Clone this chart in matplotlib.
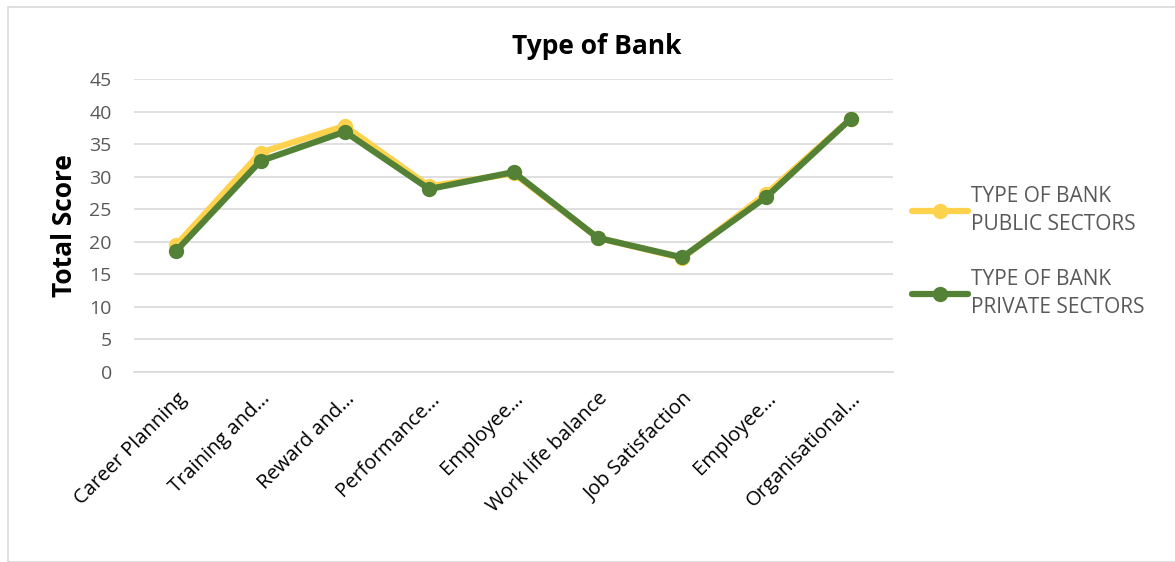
import matplotlib.pyplot as plt
from matplotlib.patches import Rectangle

categories = ['Career Planning', 'Training and…', 'Reward and…', 'Performance…',
              'Employee…', 'Work life balance', 'Job Satisfaction', 'Employee…',
              'Organisational…']
public_sectors = [19.5, 33.7, 37.8, 28.5, 30.5, 20.6, 17.5, 27.4, 38.9]
private_sectors = [18.6, 32.4, 36.9, 28.1, 30.7, 20.6, 17.6, 26.9, 38.9]
y_ticks = [0, 5, 10, 15, 20, 25, 30, 35, 40, 45]

plt.rcParams['font.family'] = ['Open Sans', 'DejaVu Sans']

fig = plt.figure(figsize=(11.75, 5.62), dpi=100)
# chart-area frame
fig.patches.append(Rectangle((8 / 1175, 0.0), 1.2, 1 - 7 / 562, transform=fig.transFigure,
                             fill=False, edgecolor='#d9d9d9', linewidth=1.2))

ax = fig.add_axes([134 / 1175, 1 - 372 / 562, (893 - 134) / 1175, (372 - 79) / 562])
x = range(len(categories))

ax.plot(x, public_sectors, color='#ffd24d', linewidth=4.5, marker='o', markersize=10,
        label='TYPE OF BANK\nPUBLIC SECTORS', solid_capstyle='round')
ax.plot(x, private_sectors, color='#538135', linewidth=4.5, marker='o', markersize=10,
        label='TYPE OF BANK\nPRIVATE SECTORS', solid_capstyle='round')

ax.set_xlim(-0.5, len(categories) - 0.5)
ax.set_ylim(0, 45)
ax.set_yticks(y_ticks)
ax.grid(axis='y', color='#d9d9d9', linewidth=1.2)
ax.set_axisbelow(True)
for side in ['top', 'right', 'left']:
    ax.spines[side].set_visible(False)
ax.spines['bottom'].set_color('#d9d9d9')
ax.spines['bottom'].set_linewidth(1.2)
ax.tick_params(axis='both', length=0)
ax.tick_params(axis='y', labelsize=14, labelcolor='#595959', pad=16)

ax.set_xticks(list(x))
ax.set_xticklabels(categories, rotation=45, ha='right', rotation_mode='anchor',
                   fontsize=14.5, color='black')
ax.tick_params(axis='x', pad=12)

ax.set_ylabel('Total Score', fontsize=19, fontweight='bold', labelpad=8)
fig.text(597 / 1175, 1 - 47 / 562, 'Type of Bank', fontsize=19, fontweight='bold',
         ha='center', va='center')

leg = fig.legend(loc='center left', bbox_to_anchor=(893 / 1175, 1 - 252 / 562),
                 frameon=False, fontsize=15, labelspacing=1.6, handlelength=2.7,
                 handletextpad=0.15, labelcolor='#595959')
for t in leg.get_texts():
    t.set_linespacing(1.45)

fig.savefig('out.png', dpi=100)
